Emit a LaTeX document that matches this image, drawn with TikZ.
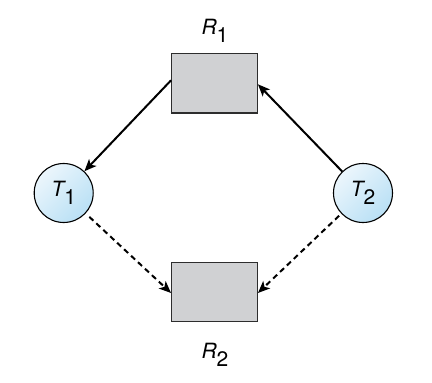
\documentclass[tikz,border=0pt]{standalone}
\usepackage{fontspec}
\setmainfont{TeX Gyre Heros}
\usetikzlibrary{arrows.meta}
\definecolor{boxgray}{RGB}{208,209,211}
\definecolor{edgegray}{RGB}{45,45,45}
\definecolor{balllight}{RGB}{236,246,252}
\definecolor{balldark}{RGB}{185,224,245}
\newcommand{\mylab}[2]{{\itshape #1}\raisebox{-0.36em}{#2}}
\begin{document}
\begin{tikzpicture}[x=1pt,y=-1pt,
  res/.style={draw=edgegray,line width=1.4pt,fill=boxgray,minimum width=85.5pt,minimum height=59.5pt,inner sep=0pt},
  proc/.style={circle,draw=black,line width=1.1pt,top color=balllight,bottom color=balldark,shading angle=45,minimum size=59pt,inner sep=0pt,font=\fontsize{21}{24}\selectfont},
  lab/.style={font=\fontsize{21}{24}\selectfont,inner sep=0pt},
  req/.style={line width=2pt,-{Stealth[length=12pt,width=10pt,inset=3pt]}},
  claim/.style={req,dash pattern=on 5.5pt off 4pt}]
\useasboundingbox (0,0) rectangle (432,383);
\node[res] (R1) at (214.5,83.3) {};
\node[res] (R2) at (214.5,292) {};
\node[proc] (T1) at (63.7,193) {\mylab{T}{1}};
\node[proc] (T2) at (363,193) {\mylab{T}{2}};
\node[lab] (L1) at (215,31) {\mylab{R}{1}};
\node[lab] (L2) at (215,355) {\mylab{R}{2}};
\draw[req] ([yshift=3pt]R1.west) -- (T1);
\draw[req] (T2) -- ([yshift=-1pt]R1.east);
\draw[claim,shorten <=5pt] (T1) -- ([yshift=-1pt]R2.west);
\draw[claim,shorten <=3pt] (T2) -- ([yshift=-1pt]R2.east);
\end{tikzpicture}
\end{document}
